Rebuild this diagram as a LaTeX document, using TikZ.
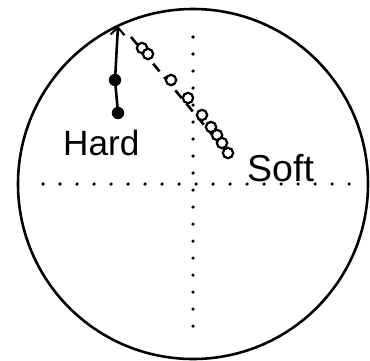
\documentclass[tikz,border=0pt]{standalone}
\usepackage{fontspec}
\setmainfont{Liberation Sans}
\usepackage{tikz}
\usetikzlibrary{arrows.meta}
\tikzset{
  rim/.style={line width=2.2pt},
  axisdots/.style={line width=3pt,line cap=round,dash pattern=on 0pt off 0.51cm},
  harddot/.style={circle,fill=black,minimum size=0.37cm,inner sep=0pt},
  softdot/.style={circle,draw,fill=white,line width=1.9pt,minimum size=0.31cm,inner sep=0pt},
  hardln/.style={line width=2.2pt,-{Straight Barb[length=2.2mm,width=4.2mm,line width=1.8pt]}},
  softln/.style={line width=2.2pt,dash pattern=on 0.3cm off 0.22cm},
  lbl/.style={font=\fontsize{30}{34}\selectfont,inner sep=0pt}
}

\begin{document}
\begin{tikzpicture}[x=0.03cm,y=-0.03cm]
  \useasboundingbox (0,0) rectangle (370,360);
  % dotted cross
  \draw[axisdots] (43,184) -- (350,184);
  \draw[axisdots] (193,37) -- (193,340);
  % outline
  \draw[rim] (193,184) circle[radius=175];

  % hard path
  \coordinate (tip) at (118,26);
  \node[harddot] (h1) at (115,80) {};
  \node[harddot] (h2) at (118,113) {};
  \draw[hardln] (h2.center) -- (h1.center) -- (tip);

  % soft path
  \coordinate (s0) at (131,37);
  \coordinate (s10) at (229,155);
  \draw[softln] (s0) -- (s10);
  \node[softdot] (s1) at (142,48) {};
  \node[softdot] (s2) at (148,54) {};
  \node[softdot] (s3) at (171,80) {};
  \node[softdot] (s4) at (188,98) {};
  \node[softdot] (s5) at (202,115) {};
  \node[softdot] (s6) at (211,127) {};
  \node[softdot] (s7) at (217,135) {};
  \node[softdot] (s8) at (222,143) {};
  \node[softdot] (s9) at (228,153) {};

  \node[lbl,anchor=base west] (hard) at (63,155) {Hard};
  \node[lbl,anchor=base west,font=\fontsize{32}{36}\selectfont] (soft) at (247,181) {Soft};
\end{tikzpicture}
\end{document}
